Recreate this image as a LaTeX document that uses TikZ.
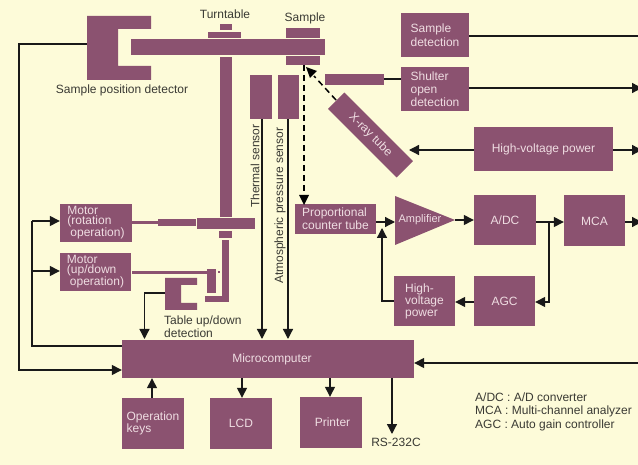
\documentclass[tikz,border=0pt]{standalone}
\usepackage{fontspec}
\setmainfont{Liberation Sans}
\usetikzlibrary{arrows.meta}
\definecolor{plum}{HTML}{8B5270}
\definecolor{paper}{HTML}{FDFBD9}
\definecolor{boxtext}{HTML}{EFDDE2}
\definecolor{inktext}{HTML}{3A3A34}
\tikzset{
  box/.style={fill=plum,text=boxtext,inner sep=0pt,font=\fontsize{12}{13}\selectfont,align=left},
  lab/.style={text=inktext,inner sep=0pt,font=\fontsize{12}{13}\selectfont,align=left},
  wire/.style={line width=1.3pt,black!90},
  ray/.style={line width=1.5pt,black,dash pattern=on 6pt off 4pt},
  tip/.style={-{Triangle[length=10pt,width=10pt]}}
}
\begin{document}
\begin{tikzpicture}[x=1pt,y=-1pt]
  % page
  \fill[paper] (0,0) rectangle (638,465);
  \useasboundingbox (0,0) rectangle (638,465);

  % sample stage
  \fill[plum] (87,16) -- (151,16) -- (151,29) -- (118,29) -- (118,66) -- (151,66) -- (151,80) -- (87,80) -- cycle;
  \fill[plum] (131,39) rectangle (325,55);
  \fill[plum] (220,24) rectangle (232,30);
  \fill[plum] (208,32) rectangle (241,38);
  \fill[plum] (286,28) rectangle (320,38);
  \fill[plum] (286,56) rectangle (320,65);
  \fill[plum] (220,57) rectangle (232,217);
  \fill[plum] (197,218) rectangle (255,229);
  \fill[plum] (219,231) rectangle (232,238);
  \fill[plum] (222,240) rectangle (229,302);
  \fill[plum] (205,296) rectangle (229,302);
  \fill[plum] (207,269) rectangle (216,293);
  \fill[plum] (218,271) rectangle (220,273);
  \fill[plum] (132,221) rectangle (158,224);
  \fill[plum] (158,219) rectangle (196,226);
  \fill[plum] (132,271) rectangle (207,274);
  \fill[plum] (165,278) -- (197,278) -- (197,285) -- (181,285) -- (181,303) -- (197,303) -- (197,310) -- (165,310) -- cycle;
  \fill[plum] (325,74) rectangle (384,85);

  % anchors for the wires that leave the shapes
  \coordinate (posdet) at (87,44);
  \coordinate (tabledet) at (165,293);
  \coordinate (shutterbar) at (384,79);
  \coordinate (thermalend) at (262,119);
  \coordinate (pressureend) at (288,119);
  \coordinate (samplebot) at (304,65);
  \coordinate (rightA) at (638,36);
  \coordinate (rightB) at (642,88);
  \coordinate (rightC) at (642,150);
  \coordinate (rightD) at (642,222);
  \coordinate (rightE) at (638,363);

  % sensors
  \node[box,minimum width=22pt,minimum height=44pt] (thermal) at (261,97) {};
  \node[box,minimum width=21pt,minimum height=44pt] (pressure) at (288.5,97) {};
  \node[lab,rotate=90,anchor=west] (thermallab) at (255,208) {Thermal sensor};
  \node[lab,rotate=90,anchor=west] (pressurelab) at (280,284) {Atmospheric pressure sensor};

  % boxes
  \node[box,minimum width=68pt,minimum height=44pt,font=\fontsize{12}{14}\selectfont] (sampledet) at (435,35) {Sample\\detection};
  \node[box,minimum width=68pt,minimum height=44pt] (shutter) at (435,89) {Shulter\\open\\detection};
  \node[box,minimum width=97pt,minimum height=23pt,rotate=-45,align=center] (xray) at (370.5,135) {X-ray tube};
  \node[box,minimum width=139pt,minimum height=44pt,align=center] (hvpower) at (543.5,149) {High-voltage power};
  \node[box,minimum width=81pt,minimum height=30pt] (counter) at (335.5,219) {Proportional\\counter tube};
  \coordinate (amptip) at (455,220);
  \fill[plum] (395,196) -- (amptip) -- (395,245) -- cycle;
  \coordinate (ampin) at (395,222);
  \node[text=boxtext,inner sep=0pt,font=\fontsize{11}{12}\selectfont] (amp) at (420,220) {Amplifier};
  \node[box,minimum width=62pt,minimum height=50pt,align=center] (adc) at (505,220) {A/DC};
  \node[box,minimum width=61pt,minimum height=51pt,align=center] (mca) at (594.5,221) {MCA};
  \node[box,minimum width=61pt,minimum height=50pt,font=\fontsize{12}{12}\selectfont] (hvsmall) at (424.5,301) {High-\\voltage\\power};
  \node[box,minimum width=61pt,minimum height=50pt,align=center] (agc) at (504.5,301) {AGC};
  \node[box,minimum width=72pt,minimum height=38pt,font=\fontsize{12}{10}\selectfont] (motorrot) at (96,223) {Motor\\(rotation\\\hspace*{3pt}operation)};
  \node[box,minimum width=71pt,minimum height=38pt,font=\fontsize{12}{10}\selectfont] (motorup) at (95.5,272) {Motor\\(up/down\\\hspace*{3pt}operation)};
  \node[box,minimum width=292pt,minimum height=38pt,align=center] (micro) at (268,359) {\hspace*{8pt}Microcomputer};
  \node[box,minimum width=62pt,minimum height=51pt,font=\fontsize{12}{12}\selectfont] (keys) at (153,423.5) {Operation\\keys};
  \node[box,minimum width=62pt,minimum height=51pt,align=center] (lcd) at (241,423.5) {LCD};
  \node[box,minimum width=62pt,minimum height=51pt,align=center] (printer) at (331,422.5) {\hspace*{3pt}Printer};

  % labels
  \node[lab] (turntable) at (225,14) {Turntable};
  \node[lab] (samplelab) at (305,18) {Sample};
  \node[lab] (posdetlab) at (122,90) {Sample position detector};
  \node[lab,anchor=north west,font=\fontsize{12}{10}\selectfont] (tablelab) at (164,316) {Table up/down\\detection};
  \node[lab] (rs) at (396,442) {RS-232C};
  \node[lab,anchor=west,font=\fontsize{12}{13.5}\selectfont] (legend) at (475,411.5) {A/DC : A/D converter\\MCA : Multi-channel analyzer\\AGC : Auto gain controller};

  % wires
  \draw[wire,tip] (posdet) -- (19,44) -- (19,370) -- (micro.west |- 0,370);
  \draw[wire] (micro.west |- 0,346) -- (32,346) -- (32,221);
  \draw[wire,tip] (32,221) -- (motorrot.west |- 0,221);
  \draw[wire,tip] (32,271) -- (motorup.west |- 0,271);
  \draw[wire,tip] (tabledet) -- (144.5,293) -- (144.5,339);
  \draw[wire,tip] (thermalend) -- (262,339);
  \draw[wire,tip] (pressureend) -- (288,339);
  \draw[wire] (shutterbar) -- (shutter.west |- shutterbar);
  \draw[wire] (sampledet.east |- rightA) -- (rightA);
  \draw[wire,tip] (shutter.east |- rightB) -- (rightB);
  \draw[wire,tip] (hvpower.east |- rightC) -- (rightC);
  \draw[wire,tip] (hvpower.west |- rightC) -- (409,150);
  \draw[wire,tip] (counter.east |- ampin) -- (ampin);
  \draw[wire,tip] (amptip) -- (adc.west);
  \draw[wire,tip] (adc.east |- rightD) -- (mca.west |- rightD);
  \draw[wire,tip] (mca.east |- rightD) -- (rightD);
  \draw[wire,tip] (549,222) -- (549,302) -- (agc.east |- 0,302);
  \draw[wire,tip] (agc.west |- 0,302) -- (hvsmall.east |- 0,302);
  \draw[wire,tip] (hvsmall.west |- 0,301) -- (382,301) -- (382,228);
  \draw[wire,tip] (rightE) -- (micro.east |- rightE);
  \draw[wire,tip] (keys.north -| 152,0) -- (micro.south -| 152,0);
  \draw[wire,tip] (micro.south -| 242,0) -- (lcd.north -| 242,0);
  \draw[wire,tip] (micro.south -| 330,0) -- (printer.north -| 330,0);
  \draw[wire,tip] (micro.south -| 392,0) -- (392,434);

  % x-ray path
  \draw[ray] (samplebot) -- (304,196);
  \fill (299,195) -- (309,195) -- (304,205) -- cycle;
  \draw[ray] (336,100) -- (314,76);
  \fill (306,67) -- (317,71) -- (310,78) -- cycle;
\end{tikzpicture}
\end{document}
